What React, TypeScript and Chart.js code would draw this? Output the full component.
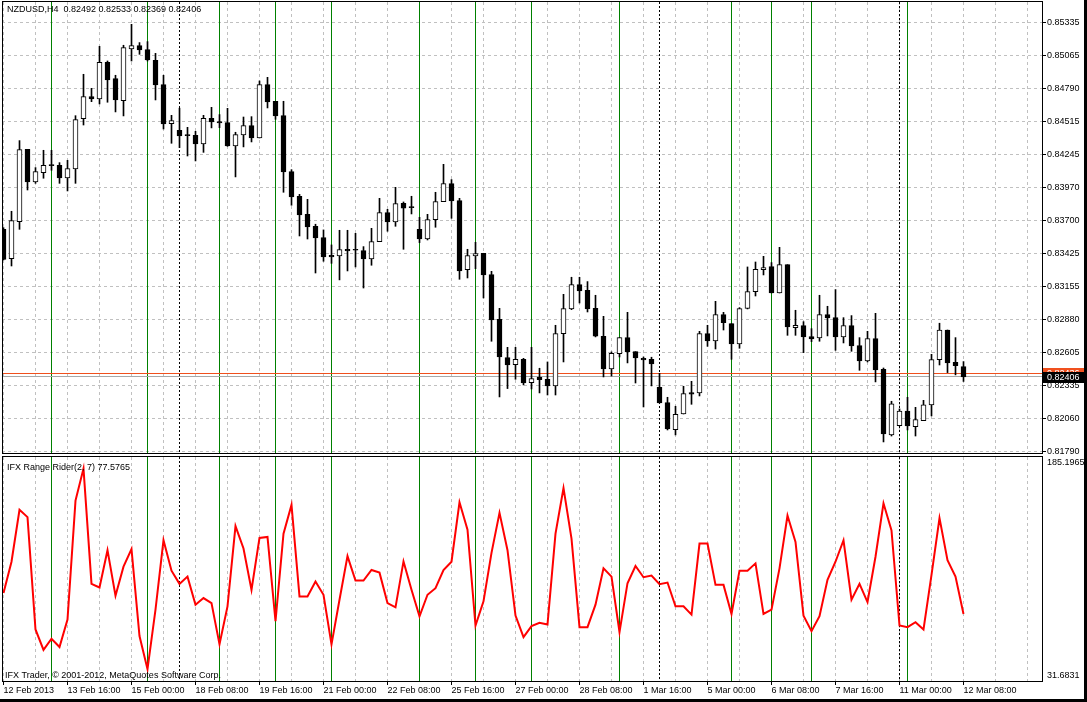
import React, { useEffect, useRef } from 'react';
import { Chart, registerables } from 'chart.js';

Chart.register(...registerables);

// ---------------- data ----------------
const symbolName = 'NZDUSD,H4';

const opens = [
  0.83626, 0.83384, 0.83690, 0.84287, 0.84017, 0.84094, 0.84152, 0.84155, 0.84050, 0.84125,
  0.84541, 0.84722, 0.84703, 0.85006, 0.84871, 0.84689, 0.85116, 0.85144, 0.85111, 0.85023,
  0.84822, 0.84499, 0.84444, 0.84400, 0.84403, 0.84331, 0.84543, 0.84516, 0.84508, 0.84315,
  0.84406, 0.84483, 0.84381, 0.84822, 0.84684, 0.84565, 0.84103, 0.83899, 0.83750, 0.83651,
  0.83557, 0.83411, 0.83406, 0.83461, 0.83453, 0.83450, 0.83381, 0.83524, 0.83764, 0.83687,
  0.83841, 0.83805, 0.83626, 0.83546, 0.83706, 0.83855, 0.84004, 0.83863, 0.83293, 0.83406,
  0.83428, 0.83252, 0.82883, 0.82566, 0.82508, 0.82552, 0.82359, 0.82403, 0.82387, 0.82332,
  0.82764, 0.82968, 0.83169, 0.83122, 0.82973, 0.82742, 0.82472, 0.82599, 0.82731, 0.82615,
  0.82560, 0.82552, 0.82321, 0.82194, 0.81971, 0.82100, 0.82277, 0.82274, 0.82764, 0.82704,
  0.82921, 0.82847, 0.82679, 0.82973, 0.83111, 0.83293, 0.83318, 0.83100, 0.83334, 0.82814,
  0.82830, 0.82739, 0.82728, 0.82921, 0.82896, 0.82737, 0.82830, 0.82665, 0.82538, 0.82723,
  0.82469, 0.81927, 0.82004, 0.82125, 0.81996, 0.82045, 0.82175, 0.82549, 0.82794, 0.82527,
  0.82492,
];

const highs = [
  0.83640, 0.83775, 0.84359, 0.84287, 0.84136, 0.84279, 0.84279, 0.84177, 0.84196, 0.84565,
  0.84907, 0.84791, 0.85138, 0.85017, 0.84899, 0.85147, 0.85320, 0.85169, 0.85177, 0.85080,
  0.84899, 0.84568, 0.84627, 0.84469, 0.84436, 0.84568, 0.84634, 0.84574, 0.84626, 0.84428,
  0.84554, 0.84557, 0.84852, 0.84882, 0.84684, 0.84684, 0.84119, 0.83915, 0.83874, 0.83668,
  0.83621, 0.83497, 0.83618, 0.83618, 0.83593, 0.83483, 0.83634, 0.83882, 0.83791, 0.83973,
  0.83852, 0.83899, 0.83725, 0.83750, 0.83932, 0.84163, 0.84037, 0.83882, 0.83461, 0.83519,
  0.83428, 0.83279, 0.82973, 0.82651, 0.82651, 0.82560, 0.82651, 0.82478, 0.82530, 0.82833,
  0.83089, 0.83230, 0.83230, 0.83194, 0.83081, 0.82907, 0.82613, 0.82731, 0.82940, 0.82615,
  0.82571, 0.82569, 0.82436, 0.82238, 0.82164, 0.82329, 0.82370, 0.82783, 0.82833, 0.83031,
  0.82940, 0.82847, 0.82979, 0.83315, 0.83356, 0.83403, 0.83351, 0.83477, 0.83334, 0.82957,
  0.82863, 0.82805, 0.83081, 0.82990, 0.83128, 0.82896, 0.82913, 0.82731, 0.82783, 0.82932,
  0.82480, 0.82205, 0.82142, 0.82238, 0.82155, 0.82213, 0.82593, 0.82850, 0.82794, 0.82731,
  0.82533,
];

const lows = [
  0.83373, 0.83323, 0.83626, 0.83951, 0.84006, 0.84048, 0.84114, 0.84006, 0.83943, 0.84006,
  0.84488, 0.84681, 0.84662, 0.84676, 0.84596, 0.84563, 0.85017, 0.85072, 0.85017, 0.84695,
  0.84455, 0.84337, 0.84301, 0.84232, 0.84191, 0.84262, 0.84464, 0.84466, 0.84312, 0.84059,
  0.84307, 0.84348, 0.84381, 0.84629, 0.84535, 0.83932, 0.83825, 0.83571, 0.83546, 0.83265,
  0.83362, 0.83345, 0.83208, 0.83282, 0.83315, 0.83141, 0.83329, 0.83524, 0.83610, 0.83651,
  0.83461, 0.83753, 0.83516, 0.83538, 0.83643, 0.83855, 0.83717, 0.83213, 0.83224, 0.83301,
  0.83059, 0.82701, 0.82241, 0.82310, 0.82387, 0.82340, 0.82307, 0.82274, 0.82257, 0.82257,
  0.82530, 0.82962, 0.83017, 0.82943, 0.82737, 0.82406, 0.82414, 0.82571, 0.82522, 0.82356,
  0.82158, 0.82332, 0.82191, 0.81968, 0.81927, 0.82100, 0.82180, 0.82249, 0.82659, 0.82637,
  0.82794, 0.82552, 0.82643, 0.82968, 0.83075, 0.83249, 0.83100, 0.83100, 0.82750, 0.82750,
  0.82607, 0.82698, 0.82701, 0.82745, 0.82626, 0.82687, 0.82618, 0.82461, 0.82530, 0.82365,
  0.81869, 0.81918, 0.82001, 0.81968, 0.81918, 0.82045, 0.82084, 0.82505, 0.82442, 0.82423,
  0.82369,
];

const closes = [
  0.83378, 0.83698, 0.84284, 0.84017, 0.84103, 0.84155, 0.84152, 0.84050, 0.84127, 0.84532,
  0.84722, 0.84703, 0.85006, 0.84860, 0.84695, 0.85127, 0.85144, 0.85108, 0.85025, 0.84819,
  0.84497, 0.84524, 0.84397, 0.84400, 0.84331, 0.84543, 0.84513, 0.84505, 0.84315, 0.84408,
  0.84483, 0.84381, 0.84822, 0.84678, 0.84563, 0.84100, 0.83893, 0.83745, 0.83645, 0.83555,
  0.83398, 0.83398, 0.83458, 0.83447, 0.83453, 0.83381, 0.83524, 0.83764, 0.83687, 0.83838,
  0.83800, 0.83805, 0.83546, 0.83706, 0.83855, 0.84004, 0.83860, 0.83282, 0.83409, 0.83425,
  0.83249, 0.82877, 0.82571, 0.82505, 0.82552, 0.82356, 0.82392, 0.82384, 0.82332, 0.82764,
  0.82971, 0.83169, 0.83117, 0.82968, 0.82742, 0.82472, 0.82602, 0.82731, 0.82613, 0.82563,
  0.82547, 0.82513, 0.82191, 0.81976, 0.82098, 0.82268, 0.82263, 0.82764, 0.82704, 0.82921,
  0.82855, 0.82679, 0.82971, 0.83111, 0.83296, 0.83309, 0.83100, 0.83334, 0.82819, 0.82833,
  0.82737, 0.82720, 0.82921, 0.82894, 0.82737, 0.82830, 0.82662, 0.82538, 0.82723, 0.82464,
  0.81935, 0.82183, 0.82125, 0.82001, 0.82053, 0.82175, 0.82549, 0.82794, 0.82522, 0.82500,
  0.82406,
];

const rangeRiderName = 'IFX Range Rider(2, 7)';
const rangeRider = [
  91.91, 113.42, 148.97, 143.99, 67.00, 52.97, 60.67, 55.00, 73.80, 155.31,
  177.25, 98.25, 95.76, 121.34, 90.10, 110.02, 122.02, 62.48, 39.83, 80.59,
  128.14, 107.31, 98.25, 103.23, 83.99, 88.51, 85.12, 56.82, 82.85, 137.87,
  122.48, 94.17, 129.72, 130.40, 72.67, 132.67, 152.37, 89.65, 89.65, 99.84,
  90.78, 56.82, 87.38, 117.27, 100.51, 100.51, 107.76, 105.95, 85.12, 82.17,
  113.65, 94.17, 76.06, 90.78, 95.31, 107.76, 113.42, 154.18, 135.38, 69.72,
  86.25, 119.53, 146.93, 121.34, 76.51, 61.80, 69.27, 71.53, 70.40, 132.67,
  163.91, 129.27, 68.59, 68.59, 83.99, 108.89, 103.23, 65.19, 98.70, 110.47,
  102.78, 103.91, 98.02, 99.15, 82.85, 82.85, 77.19, 125.87, 125.87, 97.57,
  97.57, 77.64, 107.31, 107.31, 112.29, 77.64, 80.59, 108.89, 145.12, 127.01,
  76.51, 65.87, 76.06, 100.97, 113.42, 128.14, 87.38, 98.25, 85.80, 116.82,
  153.50, 134.93, 69.72, 68.59, 71.99, 67.00, 104.36, 143.31, 114.55, 103.23,
  77.5765,
];

const dateLabels = [
  '12 Feb 2013', '13 Feb 16:00', '15 Feb 00:00', '18 Feb 08:00', '19 Feb 16:00', '21 Feb 00:00',
  '22 Feb 08:00', '25 Feb 16:00', '27 Feb 00:00', '28 Feb 08:00', '1 Mar 16:00', '5 Mar 00:00',
  '6 Mar 08:00', '7 Mar 16:00', '11 Mar 00:00', '12 Mar 08:00',
];

const priceTicks = [
  0.85335, 0.85065, 0.84790, 0.84515, 0.84245, 0.83970, 0.83700,
  0.83425, 0.83155, 0.82880, 0.82605, 0.82335, 0.82060, 0.81790,
];
const rangeRiderTicks = [31.6831, 185.1965];

const greenLineBars = [6, 18, 27, 34, 41, 52, 59, 66, 77, 91, 96, 101, 113];
const separatorBars = [22, 82, 112];

const bidPrice = 0.82406;
const askPrice = 0.82436;
const copyrightText = 'IFX Trader, \u00A9 2001-2012, MetaQuotes Software Corp.';

// ---------------- layout ----------------
const W = 1084;
const MAIN_H = 455;
const IND_TOP = 455;
const IND_H = 244;
const X_MIN = -0.1875;
const X_MAX = 129.8125;
const Y_MIN = 0.817776;
const Y_MAX = 0.855044;
const GRID_STEP = 4;
const LABEL_STEP = 8;
const FONT = "'Liberation Sans', Arial, sans-serif";
const GRID_COLOR = '#c0c0c0';
const GREEN = '#008000';

const gridValues: number[] = [];
for (let v = 0; v <= X_MAX; v += GRID_STEP) gridValues.push(v);

function drawVerticalMarkers(chart: any) {
  const { ctx, chartArea, scales } = chart;
  const { top, bottom, left, right } = chartArea;
  const x = scales.x;
  ctx.save();
  ctx.beginPath();
  ctx.rect(left, top, right - left, bottom - top);
  ctx.clip();
  ctx.lineWidth = 1;
  ctx.strokeStyle = '#000';
  ctx.setLineDash([2, 2]);
  separatorBars.forEach((b) => {
    const px = Math.floor(x.getPixelForValue(b)) + 0.5;
    ctx.beginPath();
    ctx.moveTo(px, top);
    ctx.lineTo(px, bottom);
    ctx.stroke();
  });
  ctx.setLineDash([]);
  ctx.strokeStyle = GREEN;
  greenLineBars.forEach((b) => {
    const px = Math.floor(x.getPixelForValue(b)) + 0.5;
    ctx.beginPath();
    ctx.moveTo(px, top);
    ctx.lineTo(px, bottom);
    ctx.stroke();
  });
  ctx.restore();
}

function drawFrame(chart: any, topRow: number, bottomRow: number) {
  const { ctx, chartArea } = chart;
  ctx.save();
  ctx.strokeStyle = '#000';
  ctx.lineWidth = 1;
  ctx.setLineDash([]);
  ctx.strokeRect(chartArea.left + 0.5, topRow + 0.5, chartArea.right - chartArea.left, bottomRow - topRow);
  ctx.restore();
}

const mainOverlay = {
  id: 'mainOverlay',
  beforeDatasetsDraw(chart: any) {
    drawVerticalMarkers(chart);
    const { ctx, chartArea, scales } = chart;
    const y = scales.y;
    ctx.save();
    ctx.lineWidth = 1;
    ctx.strokeStyle = '#f0501e';
    let py = Math.floor(y.getPixelForValue(askPrice)) + 0.5;
    ctx.beginPath();
    ctx.moveTo(chartArea.left, py);
    ctx.lineTo(chartArea.right, py);
    ctx.stroke();
    ctx.strokeStyle = '#a8a8a8';
    py = Math.floor(y.getPixelForValue(bidPrice)) + 0.5;
    ctx.beginPath();
    ctx.moveTo(chartArea.left, py);
    ctx.lineTo(chartArea.right, py);
    ctx.stroke();
    ctx.restore();
  },
  afterDraw(chart: any) {
    const { ctx, chartArea, scales, width } = chart;
    drawFrame(chart, chartArea.top - 1, chartArea.bottom);
    ctx.save();
    ctx.font = `9px ${FONT}`;
    ctx.textBaseline = 'middle';
    ctx.textAlign = 'left';
    ctx.fillStyle = '#000';
    const n = closes.length - 1;
    const title = `${symbolName}  ${opens[n].toFixed(5)} ${highs[n].toFixed(5)} ${lows[n].toFixed(5)} ${closes[n].toFixed(5)}`;
    ctx.fillText(title, 7, 10);
    const y = scales.y;
    const boxes = [
      { price: askPrice, color: '#f0501e' },
      { price: bidPrice, color: '#000000' },
    ];
    boxes.forEach((b) => {
      const py = Math.round(y.getPixelForValue(b.price));
      ctx.fillStyle = b.color;
      ctx.fillRect(chartArea.right + 1, py - 5, width - chartArea.right - 1, 11);
      ctx.fillStyle = '#ffffff';
      ctx.fillText(b.price.toFixed(5), chartArea.right + 5, py + 0.5);
    });
    ctx.restore();
  },
};

const indicatorOverlay = {
  id: 'indicatorOverlay',
  beforeDatasetsDraw(chart: any) {
    drawVerticalMarkers(chart);
  },
  afterDraw(chart: any) {
    const { ctx, chartArea } = chart;
    drawFrame(chart, chartArea.top - 1, chartArea.bottom);
    ctx.save();
    ctx.font = `9px ${FONT}`;
    ctx.textBaseline = 'middle';
    ctx.textAlign = 'left';
    ctx.fillStyle = '#000';
    const last = rangeRider[rangeRider.length - 1];
    ctx.fillText(`${rangeRiderName} ${last.toFixed(4)}`, 7, chartArea.top + 11);
    ctx.fillText(copyrightText, 5, chartArea.bottom - 5);
    ctx.restore();
  },
};

export default function App() {
  const mainRef = useRef<HTMLCanvasElement | null>(null);
  const indRef = useRef<HTMLCanvasElement | null>(null);

  useEffect(() => {
    const tickFont = { family: FONT, size: 9 };

    const mainChart = new Chart(mainRef.current as HTMLCanvasElement, {
      type: 'bar',
      data: {
        datasets: [
          {
            type: 'bar',
            label: 'body',
            data: opens.map((o, i) => ({ x: i, y: [o, closes[i]] })) as any,
            backgroundColor: opens.map((o, i) => (closes[i] > o ? '#ffffff' : '#000000')),
            borderColor: '#000000',
            borderWidth: 1,
            borderSkipped: false,
            barThickness: 5,
            minBarLength: 1,
            grouped: false,
            order: 0,
          } as any,
          {
            type: 'bar',
            label: 'wick',
            data: lows.map((l, i) => ({ x: i, y: [l, highs[i]] })) as any,
            backgroundColor: '#000000',
            borderWidth: 0,
            barThickness: 1,
            grouped: false,
            order: 1,
          } as any,
        ],
      },
      options: {
        animation: false,
        responsive: false,
        maintainAspectRatio: false,
        devicePixelRatio: 1,
        layout: { padding: { left: 2, top: 2, right: 0, bottom: 2 } },
        plugins: { legend: { display: false }, tooltip: { enabled: false }, title: { display: false } },
        scales: {
          x: {
            type: 'linear',
            min: X_MIN,
            max: X_MAX,
            offset: false,
            afterBuildTicks: (s: any) => {
              s.ticks = gridValues.map((v) => ({ value: v }));
            },
            ticks: { display: false },
            grid: { color: GRID_COLOR, drawTicks: false, offset: false, lineWidth: 1 },
            border: { display: false, dash: [3, 3] },
            afterFit: (s: any) => {
              s.height = 0;
              s.paddingLeft = 0;
              s.paddingRight = 0;
            },
          } as any,
          y: {
            type: 'linear',
            position: 'right',
            min: Y_MIN,
            max: Y_MAX,
            afterBuildTicks: (s: any) => {
              s.ticks = priceTicks.map((v) => ({ value: v }));
            },
            ticks: {
              autoSkip: false,
              color: '#000',
              font: tickFont,
              padding: 1,
              callback: (v: any) => Number(v).toFixed(5),
            },
            grid: { color: GRID_COLOR, tickLength: 4, tickColor: '#000', lineWidth: 1 },
            border: { display: false, dash: [3, 3] },
            afterFit: (s: any) => {
              s.width = W - 1042;
              s.paddingTop = 0;
              s.paddingBottom = 0;
            },
          } as any,
        },
      },
      plugins: [mainOverlay],
    });

    const indChart = new Chart(indRef.current as HTMLCanvasElement, {
      type: 'line',
      data: {
        datasets: [
          {
            label: rangeRiderName,
            data: rangeRider.map((v, i) => ({ x: i, y: v })) as any,
            borderColor: '#ff0000',
            borderWidth: 2,
            pointRadius: 0,
            tension: 0,
            fill: false,
          },
        ],
      },
      options: {
        animation: false,
        responsive: false,
        maintainAspectRatio: false,
        devicePixelRatio: 1,
        layout: { padding: { left: 2, top: 2, right: 0, bottom: 0 } },
        plugins: { legend: { display: false }, tooltip: { enabled: false }, title: { display: false } },
        scales: {
          x: {
            type: 'linear',
            min: X_MIN,
            max: X_MAX,
            offset: false,
            afterBuildTicks: (s: any) => {
              s.ticks = gridValues.map((v) => ({ value: v }));
            },
            ticks: {
              autoSkip: false,
              maxRotation: 0,
              minRotation: 0,
              align: 'start',
              padding: 0,
              color: '#000',
              font: tickFont,
              callback: (v: any) => {
                const n = Number(v);
                return n % LABEL_STEP === 0 && dateLabels[n / LABEL_STEP] ? dateLabels[n / LABEL_STEP] : '';
              },
            },
            grid: {
              color: GRID_COLOR,
              lineWidth: 1,
              tickLength: 4,
              offset: false,
              tickColor: (ctx: any) =>
                ctx.tick && ctx.tick.value % LABEL_STEP === 0 && ctx.tick.value <= 120 ? '#000' : 'rgba(0,0,0,0)',
            },
            border: { display: false, dash: [3, 3] },
            afterFit: (s: any) => {
              s.height = 18;
              s.paddingLeft = 0;
              s.paddingRight = 0;
            },
          } as any,
          y: {
            type: 'linear',
            position: 'right',
            min: rangeRiderTicks[0],
            max: rangeRiderTicks[1],
            afterBuildTicks: (s: any) => {
              s.ticks = rangeRiderTicks.map((v) => ({ value: v }));
            },
            ticks: {
              autoSkip: false,
              color: '#000',
              font: tickFont,
              padding: 1,
              callback: (v: any) => {
                const n = Number(v);
                const txt = n.toFixed(4);
                return n === rangeRiderTicks[1] ? ['', txt] : [txt, ''];
              },
            },
            grid: { drawOnChartArea: false, tickLength: 4, tickColor: 'rgba(0,0,0,0)' },
            border: { display: false },
            afterFit: (s: any) => {
              s.width = W - 1042;
              s.paddingTop = 0;
              s.paddingBottom = 0;
            },
          } as any,
        },
      },
      plugins: [indicatorOverlay],
    });

    return () => {
      mainChart.destroy();
      indChart.destroy();
    };
  }, []);

  return (
    <div style={{ position: 'fixed', left: 0, top: 0, width: 1087, height: 702, background: '#000' }}>
      <div style={{ position: 'absolute', left: 0, top: 0, width: W, height: 699, background: '#fff', overflow: 'hidden' }}>
        <canvas
          ref={mainRef}
          width={W}
          height={MAIN_H}
          style={{ position: 'absolute', left: 0, top: 0, width: W, height: MAIN_H, display: 'block' }}
        />
        <canvas
          ref={indRef}
          width={W}
          height={IND_H}
          style={{ position: 'absolute', left: 0, top: IND_TOP, width: W, height: IND_H, display: 'block' }}
        />
      </div>
    </div>
  );
}
